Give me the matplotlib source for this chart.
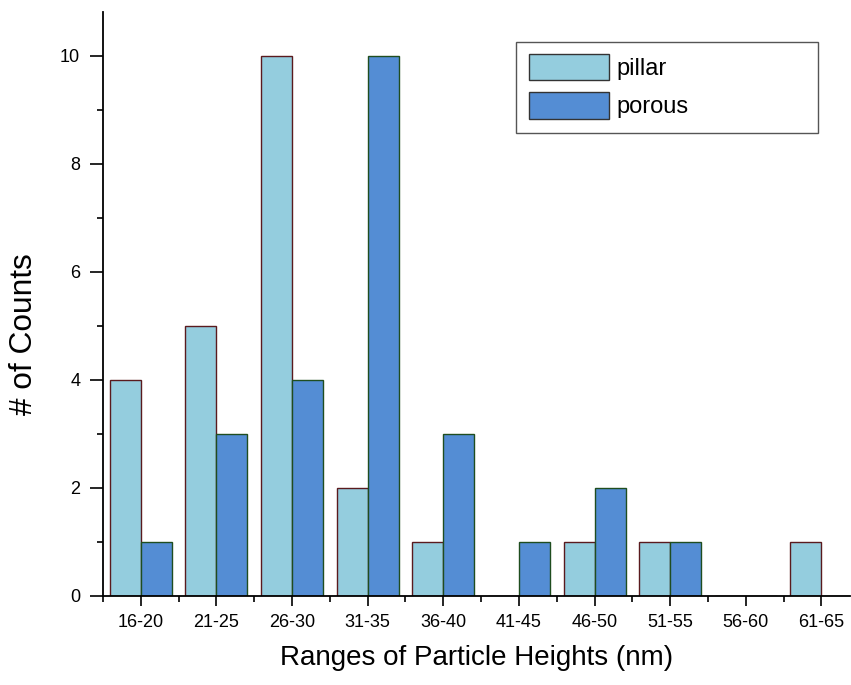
import numpy as np
import matplotlib
matplotlib.use("Agg")
import matplotlib.pyplot as plt
from matplotlib.ticker import MultipleLocator
from matplotlib.patches import Rectangle

plt.rcParams['font.family'] = ['Liberation Sans', 'DejaVu Sans']

categories = ["16-20", "21-25", "26-30", "31-35", "36-40",
              "41-45", "46-50", "51-55", "56-60", "61-65"]
pillar = [4, 5, 10, 2, 1, 0, 1, 1, 0, 1]
porous = [1, 3, 4, 10, 3, 1, 2, 1, 0, 0]

fig = plt.figure(figsize=(8.51, 6.85), dpi=100)
ax = fig.add_axes([0.121, 0.130, 0.878, 0.852])

x = np.arange(len(categories))
w = 0.41
ax.bar(x - w / 2, pillar, width=w, color="#94cdde", edgecolor="#5a1a1e",
       linewidth=1.0, label="pillar")
ax.bar(x + w / 2, porous, width=w, color="#548dd4", edgecolor="#1f4d1f",
       linewidth=1.0, label="porous")

ax.set_xlim(-0.5, 9.38)
ax.set_ylim(0, 10.8)
ax.set_xticks(x)
ax.set_xticklabels(categories, fontsize=13)
ax.xaxis.set_minor_locator(MultipleLocator(1, offset=0.5))
ax.yaxis.set_major_locator(MultipleLocator(2))
ax.yaxis.set_minor_locator(MultipleLocator(1))
ax.tick_params(axis='y', labelsize=13)
ax.tick_params(which='both', direction='out', width=1.2)
ax.tick_params(axis='y', which='major', length=9.4, pad=7)
ax.tick_params(axis='y', which='minor', length=4.3)
ax.tick_params(axis='x', which='major', length=7, pad=6)
ax.tick_params(axis='x', which='minor', length=4)
for s in ("top", "right"):
    ax.spines[s].set_visible(False)
for s in ("left", "bottom"):
    ax.spines[s].set_linewidth(1.3)

ax.set_ylabel("# of Counts", fontsize=22.8)
ax.yaxis.set_label_coords(-0.085, 0.449)
ax.set_xlabel("Ranges of Particle Heights (nm)", fontsize=20, labelpad=10)

# legend entries, with a wider frame drawn separately
leg = ax.legend(loc="upper left", bbox_to_anchor=(516 / 851, 1 - 41 / 685),
                bbox_transform=fig.transFigure,
                fontsize=17, frameon=False,
                handlelength=3.4, handleheight=1.35, borderpad=0.55,
                labelspacing=0.5, handletextpad=0.3, borderaxespad=0)
for h in leg.legend_handles:
    h.set_edgecolor("#333333")
    h.set_linewidth(1.0)
fig.patches.append(Rectangle((516 / 851, 1 - 133 / 685),
                             (818 - 516) / 851, (133 - 42) / 685,
                             transform=fig.transFigure, fill=False,
                             edgecolor="#555555", linewidth=1.0))

fig.savefig("out.png", dpi=100)
